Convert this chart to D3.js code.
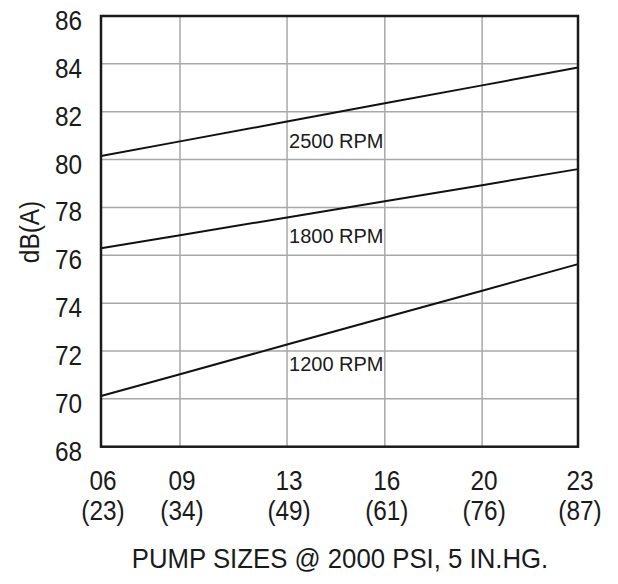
<!DOCTYPE html>
<html><head><meta charset="utf-8">
<script src="https://cdn.jsdelivr.net/npm/d3@7/dist/d3.min.js"></script>
<style>body{margin:0;background:#fff}svg{display:block}</style>
</head><body>
<script>
// ---- data ----
const pumpSizes = ["06", "09", "13", "16", "20", "23"];
const displacements = ["(23)", "(34)", "(49)", "(61)", "(76)", "(87)"];
const rpm2500 = [80.15, 80.76, 81.59, 82.35, 83.10, 83.85];
const rpm1800 = [76.29, 76.84, 77.58, 78.26, 78.93, 79.60];
const rpm1200 = [70.12, 71.03, 72.27, 73.40, 74.52, 75.63];
const seriesNames = ["2500 RPM", "1800 RPM", "1200 RPM"];
const yTickValues = [68, 70, 72, 74, 76, 78, 80, 82, 84, 86];
const labelCategory = "13";
const xTitle = "PUMP SIZES @ 2000 PSI, 5 IN.HG.";
const yTitle = "dB(A)";

// ---- layout ----
const W = 618, H = 584;
const mLeft = 101, mRight = 578, mTop = 16, mBottom = 446.7;
const xFractions = [0, 0.1656, 0.390, 0.595, 0.799, 1];
const condensed = 0.87;

const svg = d3.select("body").append("svg").attr("width", W).attr("height", H);

const x = d3.scaleLinear()
  .domain(d3.range(pumpSizes.length))
  .range(xFractions.map(f => mLeft + f * (mRight - mLeft)));
const y = d3.scaleLinear().domain([68, 86]).range([mBottom, mTop]);

// grid
const g = svg.append("g");
g.selectAll(".vg").data(pumpSizes.slice(1, -1)).join("line")
  .attr("x1", (d, i) => x(i + 1)).attr("x2", (d, i) => x(i + 1))
  .attr("y1", mTop).attr("y2", mBottom)
  .attr("stroke", "#a8a8a8").attr("stroke-width", 1.5);
g.selectAll(".hg").data(yTickValues.slice(1, -1)).join("line")
  .attr("x1", mLeft).attr("x2", mRight)
  .attr("y1", d => y(d)).attr("y2", d => y(d))
  .attr("stroke", "#a8a8a8").attr("stroke-width", 1.5);

// series lines
const series = [rpm2500, rpm1800, rpm1200];
const line = d3.line().x((d, i) => x(i)).y(d => y(d));
svg.selectAll(".series").data(series).join("path")
  .attr("d", line).attr("fill", "none")
  .attr("stroke", "#111").attr("stroke-width", 2);

// border
svg.append("rect").attr("x", mLeft).attr("y", mTop)
  .attr("width", mRight - mLeft).attr("height", mBottom - mTop)
  .attr("fill", "none").attr("stroke", "#1a1a1a").attr("stroke-width", 2.5);

const font = "'Liberation Sans', Arial, sans-serif";

// series labels
const li = pumpSizes.indexOf(labelCategory);
svg.selectAll(".slabel").data(series).join("text")
  .attr("x", x(li) + 2)
  .attr("y", d => y(d[li]) + 26)
  .attr("font-family", font)
  .attr("font-size", 20).attr("fill", "#1a1a1a")
  .text((d, i) => seriesNames[i]);

// y tick labels
svg.selectAll(".yt").data(yTickValues).join("text")
  .attr("transform", d => `translate(82,${y(d) + 14}) scale(${condensed},1)`)
  .attr("text-anchor", "end")
  .attr("font-family", font).attr("font-size", 28).attr("fill", "#1a1a1a")
  .text(d => d);

// x tick labels
svg.selectAll(".xt").data(pumpSizes).join("text")
  .attr("transform", (d, i) => `translate(${x(i) + 2},490) scale(${condensed},1)`)
  .attr("text-anchor", "middle")
  .attr("font-family", font).attr("font-size", 28).attr("fill", "#1a1a1a")
  .text(d => d);
svg.selectAll(".xt2").data(displacements).join("text")
  .attr("transform", (d, i) => `translate(${x(i) + 2},520) scale(${condensed},1)`)
  .attr("text-anchor", "middle")
  .attr("font-family", font).attr("font-size", 28).attr("fill", "#1a1a1a")
  .text(d => d);

// axis titles
svg.append("text")
  .attr("transform", `translate(340,568) scale(0.92,1)`)
  .attr("text-anchor", "middle")
  .attr("font-family", font).attr("font-size", 28).attr("fill", "#1a1a1a")
  .text(xTitle);
svg.append("text")
  .attr("transform", `translate(39,232) rotate(-90) scale(${condensed},1)`)
  .attr("text-anchor", "middle")
  .attr("font-family", font).attr("font-size", 28).attr("fill", "#1a1a1a")
  .text(yTitle);
</script>
</body></html>
